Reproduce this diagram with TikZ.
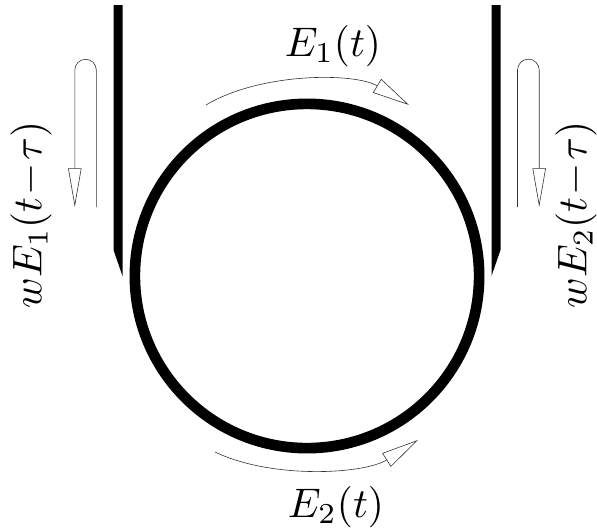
\documentclass[tikz,border=0pt]{standalone}
\usepackage{amsmath,amssymb}
\usepackage{xcolor}
\usepackage{tikz}
\usetikzlibrary{arrows.meta}

\begin{document}
\begin{tikzpicture}[x=0.75pt, y=-0.75pt,
    signal/.style={line width=0.45pt, black!80, -{Triangle[open, length=29pt, width=10pt]}},
    bentsignal/.style={signal, -{Triangle[open, length=28pt, width=12pt]}, looseness=0.8},
    label/.style={scale=3.1, inner sep=0pt}]

    \useasboundingbox (0,0) rectangle (597,529);

    % Ring
    \coordinate (ring) at (307,276);
    \draw[line width=8pt] (ring) circle[radius=129.1pt];

    % Waveguides, pointed towards the ring
    \fill (113.5,5) -- (122.5,5) -- (122.5,276) -- (113.5,250) -- cycle;
    \fill (491.5,5) -- (500.5,5) -- (500.5,250) -- (491.5,276) -- cycle;

    % Arrows along the ring
    \coordinate (topstart) at (206,105);
    \coordinate (toptip) at (409,105);
    \coordinate (botstart) at (215,452);
    \coordinate (bottip) at (418,440);
    \draw[bentsignal] (topstart) to[bend left=31] (toptip);
    \draw[bentsignal] (botstart) to[bend right=29] (bottip);

    % Hairpin arrows beside the waveguides
    \coordinate (leftback) at (96.3,207);
    \coordinate (lefttip) at (74.8,207);
    \coordinate (rightback) at (517.5,207);
    \coordinate (righttip) at (539.2,207);
    \draw[signal] (leftback) -- (96.3,70) arc[start angle=0, end angle=180, radius=8.06pt] -- (lefttip);
    \draw[signal] (rightback) -- (517.5,70) arc[start angle=180, end angle=0, radius=8.14pt] -- (righttip);

    % Labels
    \node[label] (eone) at (333,46) {$E_1(t)$};
    \node[label] (etwo) at (336,507) {$E_2(t)$};
    \node[label, rotate=90] (wone) at (31,215) {$wE_1(t\!-\!\tau)$};
    \node[label, rotate=90] (wtwo) at (576,215) {$wE_2(t\!-\!\tau)$};

\end{tikzpicture}
\end{document}
